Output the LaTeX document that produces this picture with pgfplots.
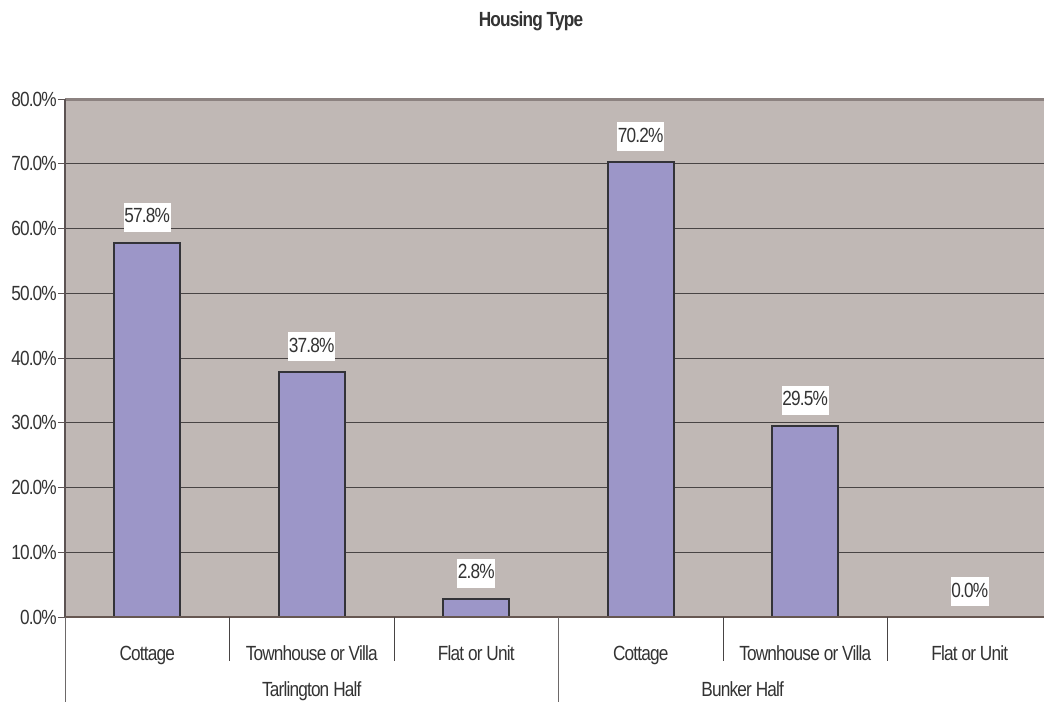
\documentclass[border=0pt]{standalone}
\usepackage{fontspec}
\setmainfont{Liberation Sans}[FakeStretch=0.84, LetterSpace=-4]
\usepackage{pgfplots}
\pgfplotsset{compat=1.18}

\definecolor{plotbg}{HTML}{C0B8B5}
\definecolor{barfill}{HTML}{9C96C8}
\definecolor{barline}{HTML}{333338}
\definecolor{gridc}{HTML}{484444}
\definecolor{axisc}{HTML}{5C5353}
\definecolor{topc}{HTML}{8C8280}
\definecolor{textc}{HTML}{333333}

\newcommand{\lblfont}{\fontsize{20.5}{24}\selectfont}

\begin{document}
\begin{tikzpicture}
\useasboundingbox (0,0) rectangle (1044pt,702pt);
% chart title
\node[anchor=base, text=textc, font=\lblfont\bfseries] at (531pt,675pt) {Housing Type};
\begin{axis}[
  at={(65pt,85pt)}, anchor=south west,
  scale only axis, width=987pt, height=518pt,
  xmin=-0.5, xmax=5.5, ymin=0, ymax=80,
  clip=false,
  axis line style={draw=none},
  axis background/.style={fill=plotbg},
  /pgf/number format/assume math mode=true,
  ytick={0,10,...,80},
  ymajorgrids,
  grid style={color=gridc, line width=0.9pt},
  yticklabel={\pgfmathprintnumber[fixed,fixed zerofill,precision=1]{\tick}\%},
  yticklabel style={font=\lblfont, text=textc, anchor=east, inner sep=0pt, xshift=-1pt},
  tick align=outside,
  major tick length=7pt,
  ytick style={draw=axisc, line width=0.9pt},
  xtick={0,...,5},
  xticklabels={Cottage, Townhouse or Villa, Flat or Unit, Cottage, Townhouse or Villa, Flat or Unit},
  xtick style={draw=none},
  xticklabel style={font=\lblfont, text=textc, anchor=base, inner sep=0pt, yshift=-36pt},
  extra x ticks={1,3.62},
  extra x tick labels={Tarlington Half, Bunker Half},
  extra x tick style={xtick style={draw=none}, xticklabel style={yshift=-36pt}},
]
\addplot[ybar, bar shift=0pt, bar width=0.40, fill=barfill, draw=barline, line width=2pt,
  nodes near coords={\pgfmathprintnumber[fixed,fixed zerofill,precision=1]{\pgfplotspointmeta}\%},
  every node near coord/.append style={font=\lblfont, text=textc, fill=white,
    inner xsep=0.5pt, inner ysep=7pt, text height=13pt, text depth=2pt,
    anchor=south, yshift=10pt}]
  coordinates {(0,57.8) (1,37.8) (2,2.8) (3,70.2) (4,29.5) (5,0.0)};

% frame of the plot area
\draw[topc, line width=3pt] (axis cs:-0.5,80) -- (axis cs:5.5,80);
\draw[axisc, line width=1.5pt] (axis cs:-0.5,0) -- (axis cs:-0.5,80);
\draw[axisc!90!brown, line width=2pt] (axis cs:-0.5,0) -- (axis cs:5.5,0);

% category separators below the axis
\draw[gridc, line width=0.9pt] (axis cs:0.5,0) -- ++(0pt,-44pt);
\draw[gridc, line width=0.9pt] (axis cs:1.5,0) -- ++(0pt,-44pt);
\draw[gridc, line width=0.9pt] (axis cs:3.5,0) -- ++(0pt,-44pt);
\draw[gridc, line width=0.9pt] (axis cs:4.5,0) -- ++(0pt,-44pt);
\draw[gridc!80, line width=0.9pt] (axis cs:-0.5,0) -- ++(0pt,-85pt);
\draw[gridc!80, line width=0.9pt] (axis cs:2.5,0) -- ++(0pt,-85pt);
\end{axis}
\end{tikzpicture}
\end{document}
